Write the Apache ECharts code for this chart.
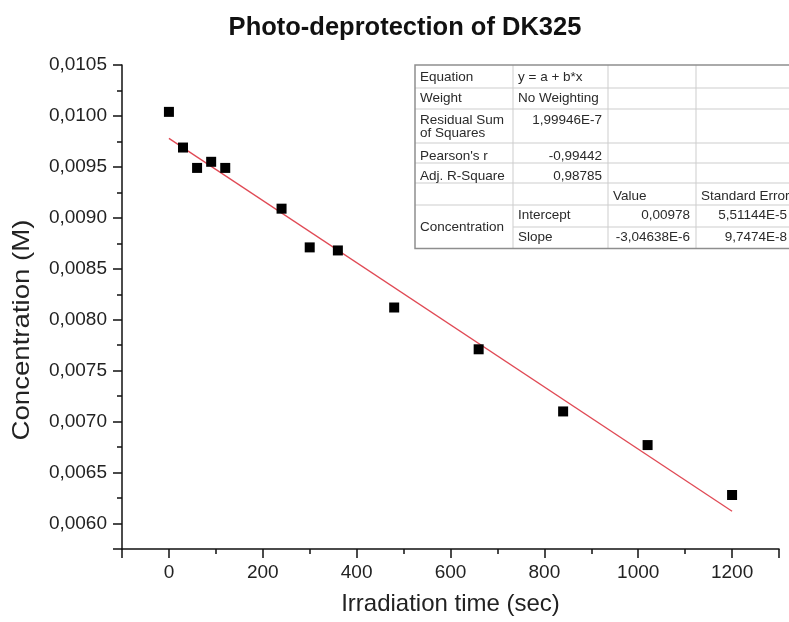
<!DOCTYPE html>
<html>
<head>
<meta charset="utf-8">
<script src="https://cdn.jsdelivr.net/npm/echarts@6/dist/echarts.min.js"></script>
<style>html,body{margin:0;padding:0;background:#fff}#c{width:789px;height:622px}</style>
</head>
<body>
<div id="c"></div>
<script>
// ---- data ----
var times = [0, 30, 60, 90, 120, 240, 300, 360, 480, 660, 840, 1020, 1200];
var conc = [0.01004, 0.00969, 0.00949, 0.00955, 0.00949, 0.00909, 0.00871, 0.00868, 0.00812, 0.00771, 0.00710, 0.00677, 0.00628];
var fitTimes = [0, 1200];
var fitConc = [0.00978, 0.00612];
var titleText = 'Photo-deprotection of DK325';
var xName = 'Irradiation time (sec)';
var yName = 'Concentration (M)';
// fit table contents: [text, column, row, align]
var tableCells = [
  ['Equation', 0, 0, 'left'], ['y = a + b*x', 1, 0, 'left'],
  ['Weight', 0, 1, 'left'], ['No Weighting', 1, 1, 'left'],
  ['Residual Sum', 0, 2, 'left'], ['of Squares', 0, 2.6, 'left'], ['1,99946E-7', 1, 2, 'right'],
  ["Pearson's r", 0, 3, 'left'], ['-0,99442', 1, 3, 'right'],
  ['Adj. R-Square', 0, 4, 'left'], ['0,98785', 1, 4, 'right'],
  ['Value', 2, 5, 'left'], ['Standard Error', 3, 5, 'left'],
  ['Concentration', 0, 6.5, 'left'],
  ['Intercept', 1, 6, 'left'], ['0,00978', 2, 6, 'right'], ['5,51144E-5', 3, 6, 'right'],
  ['Slope', 1, 7, 'left'], ['-3,04638E-6', 2, 7, 'right'], ['9,7474E-8', 3, 7, 'right']
];

// ---- layout ----
var FONT = '"Liberation Sans", Arial, sans-serif';
var colEdges = [415, 513, 608, 696, 800];
var rowEdges = [65, 88, 109, 143, 163, 183, 205, 227, 248.5];
var rowText = [77, 98, 120, 156, 176.5, 196, 215.5, 237.5];

function rowY(r) {
  if (r === 2.6) return 133.5;
  if (r === 6.5) return 227;
  return rowText[r];
}

var graphics = [];
graphics.push({type: 'rect', shape: {x: colEdges[0], y: rowEdges[0], width: colEdges[4] - colEdges[0], height: rowEdges[8] - rowEdges[0]},
  style: {fill: '#fff', stroke: 'none'}, z: 10});
for (var i = 1; i < rowEdges.length - 1; i++) {
  var x0 = (i === 7) ? colEdges[1] : colEdges[0];
  graphics.push({type: 'line', shape: {x1: x0, y1: rowEdges[i], x2: colEdges[4], y2: rowEdges[i]}, style: {stroke: '#cdcdcd', lineWidth: 1}, z: 11});
}
for (var j = 1; j < colEdges.length - 1; j++) {
  graphics.push({type: 'line', shape: {x1: colEdges[j], y1: rowEdges[0], x2: colEdges[j], y2: rowEdges[8]}, style: {stroke: '#cdcdcd', lineWidth: 1}, z: 11});
}
graphics.push({type: 'rect', shape: {x: colEdges[0], y: rowEdges[0], width: colEdges[4] - colEdges[0], height: rowEdges[8] - rowEdges[0]},
  style: {fill: 'none', stroke: '#8e8e8e', lineWidth: 1.5}, z: 12});
tableCells.forEach(function (c) {
  var col = c[1];
  var x = c[3] === 'left' ? colEdges[col] + 5 : colEdges[col + 1] - 6;
  if (col === 3 && c[3] === 'right') x = 787;
  graphics.push({type: 'text', x: x, y: rowY(c[2]), z: 13,
    style: {text: c[0], fill: '#2a2a2a', font: '13.5px ' + FONT, textAlign: c[3], textVerticalAlign: 'middle'}});
});
// y axis title (stretched along its length like the reference)
graphics.push({type: 'text', x: 22, y: 330, rotation: Math.PI / 2, scaleX: 1.15, z: 5,
  style: {text: yName, fill: '#222', font: '24px ' + FONT, textAlign: 'center', textVerticalAlign: 'middle'}});

var scatterData = times.map(function (t, i) { return [t, conc[i]]; });
var fitData = fitTimes.map(function (t, i) { return [t, fitConc[i]]; });

var chart = echarts.init(document.getElementById('c'), null, {renderer: 'canvas'});
chart.setOption({
  animation: false,
  backgroundColor: '#fff',
  title: {
    text: titleText, left: 400, top: 10, textAlign: 'center',
    textStyle: {fontFamily: FONT, fontWeight: 'bold', fontSize: 25.5, color: '#111'}
  },
  grid: {left: 122, right: 10, top: 65, bottom: 73, containLabel: false},
  xAxis: {
    type: 'value', min: -100, max: 1300, splitNumber: 7,
    name: xName, nameLocation: 'middle', nameGap: 43,
    nameTextStyle: {fontFamily: FONT, fontSize: 24, color: '#222'},
    axisLine: {show: true, onZero: false, lineStyle: {color: '#111', width: 1.5}},
    axisTick: {show: true, inside: false, length: 9, lineStyle: {color: '#111', width: 1.5}},
    minorTick: {show: true, splitNumber: 2, length: 5, lineStyle: {color: '#111', width: 1.5}},
    splitLine: {show: false},
    axisLabel: {show: true, margin: 14, fontFamily: FONT, fontSize: 19, color: '#222', showMinLabel: false, showMaxLabel: false,
      formatter: function (v) { return String(v); }}
  },
  yAxis: {
    type: 'value', min: 0.00575, max: 0.0105, splitNumber: 9,
    axisLine: {show: true, onZero: false, lineStyle: {color: '#111', width: 1.5}},
    axisTick: {show: true, inside: false, length: 9, lineStyle: {color: '#111', width: 1.5}},
    minorTick: {show: true, splitNumber: 2, length: 5, lineStyle: {color: '#111', width: 1.5}},
    splitLine: {show: false},
    axisLabel: {show: true, margin: 15, fontFamily: FONT, fontSize: 19, color: '#222', showMinLabel: false,
      formatter: function (v) { return v.toFixed(4).replace('.', ','); }}
  },
  series: [
    {type: 'line', data: fitData, symbol: 'none', lineStyle: {color: '#e04a55', width: 1.3}, z: 2, silent: true},
    {type: 'scatter', data: scatterData, symbol: 'rect', symbolSize: 10, itemStyle: {color: '#000', opacity: 1}, z: 3}
  ],
  graphic: graphics
});
</script>
</body>
</html>
